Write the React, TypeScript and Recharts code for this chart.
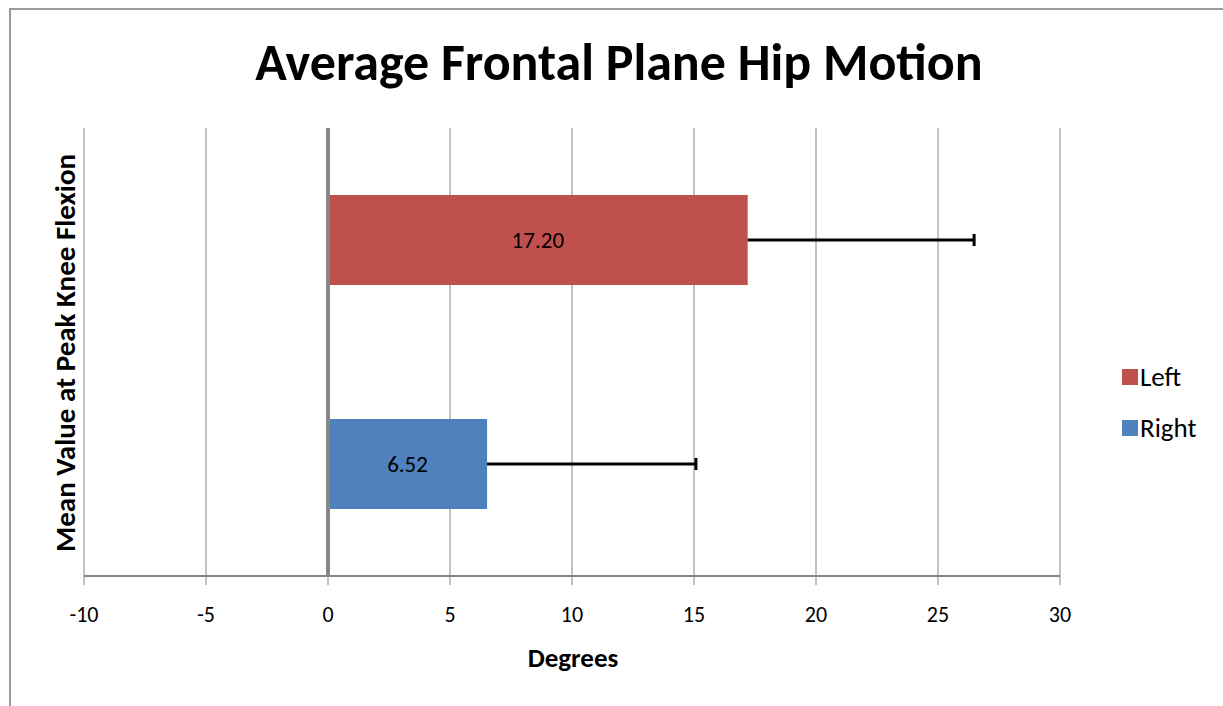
import {
  BarChart,
  Bar,
  Cell,
  XAxis,
  YAxis,
  CartesianGrid,
  ReferenceLine,
  LabelList,
} from 'recharts';

const CATEGORIES = ['Left', 'Right'];
const MEANS = [17.2, 6.52];
const ERRORS = [9.28, 8.56];
const COLORS = ['#C0504D', '#4F81BD'];
const X_TICKS = [-10, -5, 0, 5, 10, 15, 20, 25, 30];

const FONT = "Carlito, 'Liberation Sans Narrow', 'DejaVu Sans Condensed', sans-serif";
const GRID = '#868686';

const data = CATEGORIES.map((name, i) => ({
  name,
  value: MEANS[i],
  err: ERRORS[i],
}));

// bar rect plus a one-sided (plus) error bar, scaled from the bar's own px/unit
const BarWithError = (props: any) => {
  const { x, y, width, height, fill, payload } = props;
  const perUnit = width / payload.value;
  const x1 = x + width;
  const x2 = x1 + payload.err * perUnit;
  const cy = y + height / 2;
  return (
    <g>
      <rect x={x} y={y} width={width} height={height} fill={fill} />
      <line x1={x1} y1={cy} x2={x2} y2={cy} stroke="#000" strokeWidth={3} />
      <line x1={x2} y1={cy - 6} x2={x2} y2={cy + 6} stroke="#000" strokeWidth={3} />
    </g>
  );
};

export default function App() {
  return (
    <div
      style={{
        position: 'absolute',
        left: 0,
        top: 0,
        width: 1223,
        height: 706,
        background: '#fff',
        overflow: 'hidden',
        fontFamily: FONT,
      }}
    >
      {/* chart frame */}
      <div
        style={{
          position: 'absolute',
          left: 9,
          top: 8,
          width: 1230,
          height: 720,
          border: '2px solid #9a9a9a',
          boxSizing: 'border-box',
        }}
      />
      <BarChart
        width={1223}
        height={706}
        data={data}
        layout="vertical"
        margin={{ top: 128, right: 163, bottom: 70, left: 84 }}
        style={{ position: 'absolute', left: 0, top: 0 }}
      >
        <CartesianGrid horizontal={false} stroke={GRID} strokeWidth={1} />
        <XAxis
          type="number"
          domain={[-10, 30]}
          ticks={X_TICKS}
          height={60}
          axisLine={{ stroke: GRID, strokeWidth: 2 }}
          tickLine={{ stroke: GRID }}
          tickSize={9}
          tickMargin={21}
          tick={{ fill: '#000', fontSize: 22, fontFamily: FONT }}
          interval={0}
        />
        <YAxis type="category" dataKey="name" hide />
        <ReferenceLine x={0} stroke={GRID} strokeWidth={4} />
        <Bar dataKey="value" barSize={90} shape={BarWithError} isAnimationActive={false}>
          {data.map((d, i) => (
            <Cell key={d.name} fill={COLORS[i]} />
          ))}
          <LabelList
            dataKey="value"
            position="center"
            formatter={(v: any) => Number(v).toFixed(2)}
            style={{ fill: '#000', fontSize: 23, fontFamily: FONT }}
          />
        </Bar>
      </BarChart>

      {/* title */}
      <div
        style={{
          position: 'absolute',
          left: 0,
          width: 1238,
          top: 34,
          textAlign: 'center',
          fontSize: 52,
          fontWeight: 'bold',
          lineHeight: '56px',
        }}
      >
        Average Frontal Plane Hip Motion
      </div>

      {/* y axis title */}
      <div
        style={{
          position: 'absolute',
          left: 65,
          top: 353,
          transform: 'translate(-50%, -50%) rotate(-90deg)',
          whiteSpace: 'nowrap',
          fontSize: 29,
          fontWeight: 'bold',
        }}
      >
        Mean Value at Peak Knee Flexion
      </div>

      {/* x axis title */}
      <div
        style={{
          position: 'absolute',
          left: 573,
          top: 657,
          transform: 'translate(-50%, -50%)',
          fontSize: 27,
          fontWeight: 'bold',
        }}
      >
        Degrees
      </div>

      {/* legend */}
      {CATEGORIES.map((name, i) => (
        <div
          key={name}
          style={{
            position: 'absolute',
            left: 1122,
            top: 360 + i * 51,
            display: 'flex',
            alignItems: 'center',
            fontSize: 27,
          }}
        >
          <span
            style={{
              display: 'inline-block',
              width: 16,
              height: 16,
              background: COLORS[i],
              marginRight: 2,
            }}
          />
          {name}
        </div>
      ))}
    </div>
  );
}
